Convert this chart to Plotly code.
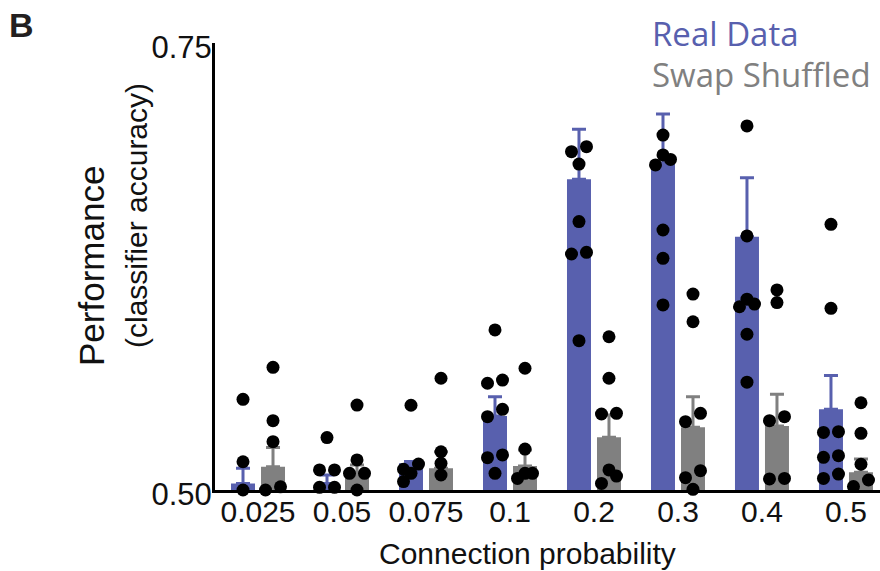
import plotly.graph_objects as go

categories = ["0.025", "0.05", "0.075", "0.1", "0.2", "0.3", "0.4", "0.5"]
series_names = ["Real Data", "Swap Shuffled"]

real_mean = [0.5037, 0.5037, 0.5149, 0.5414, 0.6738, 0.6827, 0.6417, 0.5451]
real_sem = [0.0084, 0.0047, 0.0011, 0.0108, 0.0279, 0.0276, 0.0330, 0.0190]
shuf_mean = [0.5130, 0.5084, 0.5121, 0.5134, 0.5295, 0.5351, 0.5358, 0.5099]
shuf_sem = [0.0107, 0.0056, 0.0093, 0.0090, 0.0124, 0.0171, 0.0177, 0.0074]

real_points = [
    [0.5507, 0.5158, 0.5000],
    [0.5293, 0.5112, 0.5112, 0.5015, 0.5015],
    [0.5474, 0.5145, 0.5116, 0.5093, 0.5047, 0.4996],
    [0.5895, 0.5615, 0.5597, 0.5451, 0.5410, 0.5196, 0.5181, 0.5093],
    [0.6920, 0.6892, 0.6823, 0.6501, 0.6329, 0.6320, 0.5835],
    [0.6985, 0.6874, 0.6849, 0.6818, 0.6454, 0.6296, 0.6035],
    [0.7036, 0.6421, 0.6067, 0.6040, 0.6025, 0.5871, 0.5603],
    [0.6486, 0.6016, 0.5326, 0.5322, 0.5192, 0.5183, 0.5089, 0.5065],
]
shuf_points = [
    [0.5686, 0.5388, 0.5270, 0.5018, 0.5000],
    [0.5475, 0.5168, 0.5093, 0.5093, 0.5000],
    [0.5625, 0.5214, 0.5149, 0.5084, 0.4996, 0.4996],
    [0.5681, 0.5229, 0.5093, 0.5093, 0.5065],
    [0.5857, 0.5625, 0.5429, 0.5425, 0.5112, 0.5078, 0.5037],
    [0.6096, 0.5941, 0.5429, 0.5382, 0.5108, 0.5069, 0.5004],
    [0.6119, 0.6048, 0.5410, 0.5388, 0.5065, 0.5062, 0.4996],
    [0.5488, 0.5317, 0.5144, 0.5056, 0.5019],
]

BLUE = "#5860AE"
GRAY = "#808080"

X_MIN, X_MAX = -0.512, 7.405
Y_MIN, Y_MAX = 0.50, 0.75
PLOT_L, PLOT_R, PLOT_T, PLOT_B = 215, 880, 43, 490
PLOT_W = PLOT_R - PLOT_L
PLOT_H = PLOT_B - PLOT_T
PX_X = PLOT_W / (X_MAX - X_MIN)
PX_Y = PLOT_H / (Y_MAX - Y_MIN)

BAR_W = 24 / PX_X
SIDE = 15 / PX_X
HALF = 7.5 / PX_X
GAP_PX = 11


def swarm(idx, side, values):
    vals = sorted(values, reverse=True)
    groups = []
    for v in vals:
        if groups and (groups[-1][-1] - v) * PX_Y < GAP_PX:
            groups[-1].append(v)
        else:
            groups.append([v])
    xs, ys = [], []
    for g in groups:
        n = len(g)
        if n == 1:
            pat = [0]
        elif n == 3:
            pat = [0, 1, -1]
        else:
            pat = [1 if i % 2 == 0 else -1 for i in range(n)]
            if n % 2 == 1:
                pat[n // 2] = 0
        for v, p in zip(g, pat):
            xs.append(idx + side + p * HALF)
            ys.append(v)
    return xs, ys


idxs = list(range(len(categories)))
fig = go.Figure()

for means, sems, color, sgn in [(real_mean, real_sem, BLUE, -1), (shuf_mean, shuf_sem, GRAY, 1)]:
    fig.add_trace(go.Bar(
        x=idxs, y=means, width=BAR_W, offset=sgn * SIDE - BAR_W / 2,
        marker=dict(color=color, line=dict(width=0)),
        error_y=dict(type="data", array=sems, arrayminus=[0] * len(sems), symmetric=False,
                     color=color, thickness=3, width=7),
        showlegend=False, hoverinfo="skip",
    ))

for pts, sgn in [(real_points, -1), (shuf_points, 1)]:
    X, Y = [], []
    for i, vals in enumerate(pts):
        xs, ys = swarm(i, sgn * SIDE, vals)
        X += xs
        Y += ys
    fig.add_trace(go.Scatter(
        x=X, y=Y, mode="markers", cliponaxis=False,
        marker=dict(color="black", size=13, line=dict(width=0)),
        showlegend=False, hoverinfo="skip",
    ))

FONT = "Liberation Sans, Arial, sans-serif"
LEG_FONT = "Open Sans, sans-serif"


def ann(text, px, py, size, color="#111111", family=FONT, angle=0, xanchor="center"):
    return dict(text=text, x=(px - PLOT_L) / PLOT_W, y=(PLOT_B - py) / PLOT_H,
                xref="paper", yref="paper", xanchor=xanchor, yanchor="middle",
                textangle=angle, showarrow=False,
                font=dict(size=size, color=color, family=family))


fig.update_layout(
    width=880, height=571,
    margin=dict(l=PLOT_L, r=880 - PLOT_R, t=PLOT_T, b=571 - PLOT_B),
    paper_bgcolor="white", plot_bgcolor="white",
    barmode="overlay",
    font=dict(family=FONT, size=30, color="#111111"),
    xaxis=dict(range=[X_MIN, X_MAX], tickvals=idxs, ticktext=categories,
               showline=True, linecolor="black", linewidth=3, showgrid=False,
               zeroline=False, ticks="", tickfont=dict(size=30), ticklabelstandoff=-7),
    yaxis=dict(range=[Y_MIN, Y_MAX], tickvals=[0.50, 0.75], ticktext=["0.50", "0.75"],
               showline=True, linecolor="black", linewidth=3, showgrid=False,
               zeroline=False, ticks="", tickfont=dict(size=31), ticklabelstandoff=-6,
               ticklabelshift=4),
    annotations=[
        ann("Connection probability", 527, 553, 30),
        ann("<b>B</b>", 7, 25, 34, color="#231F20", xanchor="left"),
        ann("Performance", 91, 266, 35, angle=-90),
        ann("(classifier accuracy)", 137, 216, 30, angle=-90),
        ann(series_names[0], 650, 34, 33, color=BLUE, family=LEG_FONT, xanchor="left"),
        ann(series_names[1], 650, 74, 33, color=GRAY, family=LEG_FONT, xanchor="left"),
    ],
)

fig.write_html("out.html")
